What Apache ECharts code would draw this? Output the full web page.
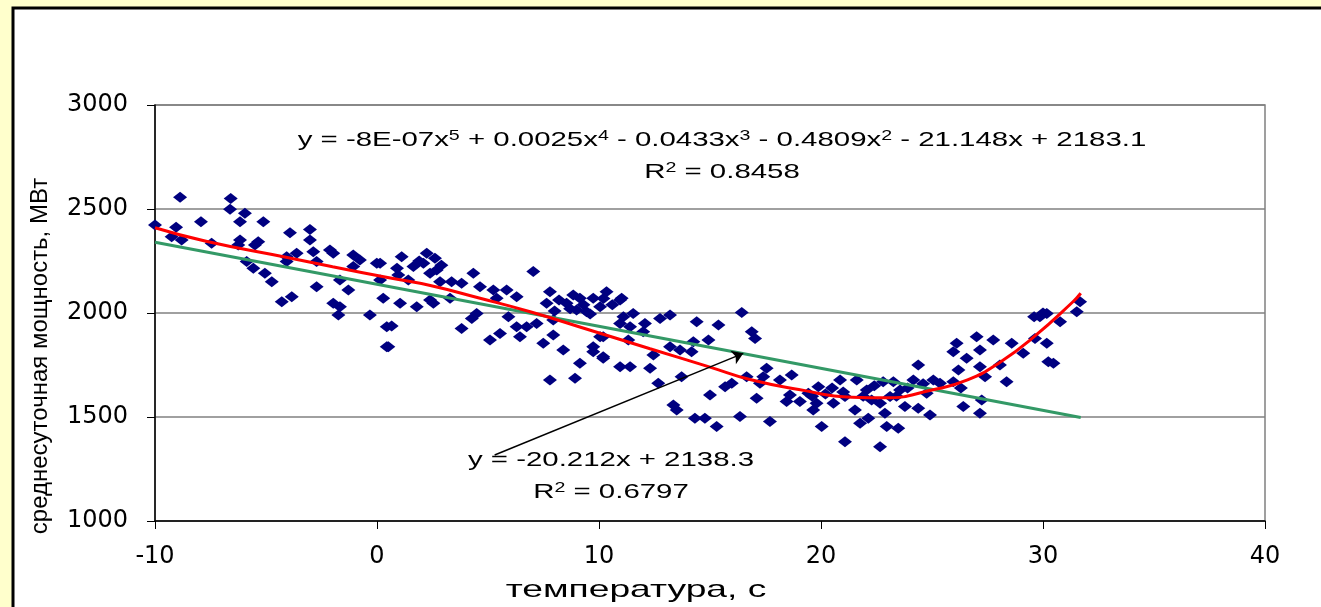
<!DOCTYPE html>
<html>
<head>
<meta charset="utf-8">
<title>температура / мощность</title>
<script src="https://cdn.jsdelivr.net/npm/echarts@6.0.0/dist/echarts.min.js"></script>
<style>
  html, body { margin: 0; padding: 0; background: #ffffcc; }
  #chart { width: 1321px; height: 607px; }
</style>
</head>
<body>
<div id="chart"></div>
<script>
var tempX = [
  -10, -8.87, -9.05, -9.25, -8.8, -7.93, -7.45, -6.59, -6.62, -5.95, -6.17, -5.12, -6.17, -6.25, -5.35, -5.5,
  -5.87, -5.57, -5.05, -4.74, -4.29, -3.84, -3.92, -4.07, -3.62, -4.07, -3.02, -3.02, -2.87, -2.72, -2.12, -1.97,
  -2.72, -1.67, -1.97, -1.67, -1.74, -1.29, -1.07, -0.77, -1.07, -0.01, -0.32, 0.28, 0.14, 0.44, 0.44,
  0.14, 0.66, 0.51, 1.11, 0.96, 1.04, 1.64, 1.79, 1.41, 2.24, 2.61, 2.09, 2.39, 2.69, 2.84, 2.39, 2.54,
  3.36, 3.81, 3.29, 4.34, 3.81, 4.64, 4.49, 4.27, 5.24, 5.84, 5.39, 5.09, 5.54, 5.92, 6.29, 6.29, 6.44,
  7.04, 6.74, 7.19, 7.49, 7.79, 7.64, 7.94, 7.94, 8.39, 7.79, 8.84, 8.54, 9.14, 8.99, 9.44, 9.74, 10.34,
  10.05, 9.14, 8.92, 9.74, 9.74, 10.19, 10.05, 10.95, 11.1, 10.95, 11.32,
  11.02, 11.54, 10.95, 11.4, 10.19, 10.19, 11.4, 12.07, 11.99, 12.75, 13.2, 12.45, 12.3, 12.67, 13.2,
  13.65, 13.72, 14.25, 14.4, 14.93, 15.38, 14.17, 13.35, 13.5, 14.32, 14.77, 15.3, 15.0, 15.68, 16.43,
  16.88, 17.03, 15.98, 16.65, 16.35, 17.25, 17.1, 17.55, 17.4, 17.7, 18.15, 18.68, 18.6, 19.05, 19.43,
  19.88, 19.8, 20.03, 20.86, 21.08, 21.08, 18.45,
  19.65, 20.56, 21.61, 21.53, 21.76, 22.06, 22.28, 22.13, 22.66, 22.66, 22.88, 22.8, 23.26, 22.96, 23.48,
  23.11, 23.56, 23.78, 24.16, 24.38, 24.38, 24.91, 25.06, 25.36, 24.76, 25.96, 26.11, 26.19, 26.41, 25.96,
  26.56, 27.01, 27.16, 27.16, 27.39, 27.24, 27.16, 27.76, 28.06, 28.36, 28.59, 29.11, 29.64, 29.86, 30.17,
  30.24, 30.47, 30.17, 30.77, 31.52, 31.67, 30.0, 29.6,
  8.2, 8.7, 9.3, 9.6, 10.6, 10.2, 8.0, 1.9, 2.9, 0.9,
  20.2, 20.5, 19.6, 21.0, 21.9, 22.4, 23.4, 23.9, 24.6, 26.3
];
var powerY = [
  2423, 2556, 2412, 2367, 2351, 2439, 2335, 2551, 2499, 2479, 2439, 2439, 2351, 2327, 2343, 2327,
  2247, 2215, 2191, 2150, 2054, 2078, 2386, 2271, 2287, 2247, 2402, 2351, 2295, 2126, 2303, 2287,
  2247, 2159, 2047, 2030, 1990, 2111, 2279, 2255, 2223, 2239, 1990, 2071, 2159, 1934, 1838,
  2239, 1937, 1838, 2271, 2183, 2047, 2223, 2030, 2159, 2287, 2263, 2239, 2191, 2207, 2150, 2062, 2047,
  2150, 2143, 2071, 2191, 1926, 2126, 1998, 1974, 2111, 2111, 2071, 1870, 1902, 1982, 2078, 1934, 1886,
  2199, 1934, 1950, 1854, 2102, 2047, 1966, 1894, 1822, 1678, 2087, 2047, 2071, 2014, 2006, 2071, 2102,
  2030, 1758, 1686, 1838, 1814, 1790, 1886, 2062, 1982, 1742, 1870,
  2071, 1998, 1950, 1934, 1886, 1782, 1742, 1950, 1910, 1974, 1990, 1798, 1734, 1662, 1838,
  1822, 1694, 1862, 1958, 1870, 1942, 1814, 1558, 1534, 1494, 1494, 1454, 1606, 1646, 2002,
  1910, 1878, 1662, 1694, 1502, 1662, 1590, 1734, 1694, 1478, 1678, 1702, 1606, 1574, 1614,
  1646, 1566, 1454, 1678, 1598, 1381, 1574,
  1534, 1566, 1678, 1534, 1470, 1630, 1582, 1494, 1357, 1566, 1518, 1670, 1670, 1454, 1446,
  1598, 1630, 1550, 1678, 1750, 1542, 1510, 1678, 1662, 1614, 1814, 1854, 1726, 1550, 1670,
  1782, 1886, 1822, 1742, 1694, 1582, 1518, 1870, 1750, 1670, 1854, 1806, 1878, 1982, 1854,
  1766, 1758, 1998, 1958, 2006, 2054, 2000, 1982,
  2062, 2020, 2040, 1995, 2040, 2070, 2010, 2250, 2230, 2215,
  1610, 1640, 1600, 1620, 1600, 1650, 1600, 1640, 1660, 1640
];

// полиномиальный тренд (точки по красной кривой с картинки)
var polyX = [-10, -7.7, -4.1, -2, 0.6, 2.4, 4.6, 6.9, 9.1, 12.3, 15.0, 16.8, 19.0, 21.4, 22.9, 25.0, 26.6, 28.1, 29.6, 31.35, 31.7];
var polyY = [2410, 2345, 2268, 2222, 2168, 2132, 2072, 2006, 1934, 1828, 1740, 1680, 1632, 1595, 1592, 1630, 1678, 1766, 1886, 2054, 2095];

// линейный тренд
var linX = [-10, 31.7];
var linY = [2340, 1498];

// стрелка-выноска
var arrowFrom = [5.3, 1317];
var arrowTo = [16.5, 1806];

var xTicks = [-10, 40, 10];
var yTicks = [1000, 3000, 500];

function pairs(xs, ys) {
  var out = [];
  for (var i = 0; i < xs.length; i++) out.push([xs[i], ys[i]]);
  return out;
}

var tickFont = 'DejaVu Sans';
var textFont = 'Liberation Sans';
var supStyle = { fontSize: 14, fontFamily: textFont, verticalAlign: 'top', lineHeight: 14 };

var chart = echarts.init(document.getElementById('chart'));

var option = {
  backgroundColor: '#ffffcc',
  animation: false,
  grid: {
    left: 155, right: 56, top: 105, bottom: 86,
    show: true, borderColor: '#808080', borderWidth: 1.5, backgroundColor: '#fff'
  },
  xAxis: {
    type: 'value', min: xTicks[0], max: xTicks[1], interval: xTicks[2],
    axisLine: { onZero: false, lineStyle: { color: '#000', width: 1.5 } },
    axisTick: { show: true, length: 8, lineStyle: { color: '#000' } },
    splitLine: { show: false },
    axisLabel: { color: '#000', fontSize: 24, fontFamily: tickFont, margin: 24 }
  },
  yAxis: {
    type: 'value', min: yTicks[0], max: yTicks[1], interval: yTicks[2],
    axisLine: { show: true, onZero: false, lineStyle: { color: '#000', width: 1.5 } },
    axisTick: { show: true, length: 8, lineStyle: { color: '#000' } },
    splitLine: { show: true, lineStyle: { color: '#808080', width: 1.5 } },
    axisLabel: {
      color: '#000', fontSize: 24, fontFamily: tickFont, margin: 27,
      formatter: function (v) { return String(v); }
    }
  },
  graphic: [
    {
      type: 'rect', z: -10, silent: true,
      shape: { x: 13, y: 8, width: 1400, height: 700 },
      style: { fill: '#fff', stroke: '#000', lineWidth: 3 }
    },
    {
      type: 'text', x: 40, y: 356, rotation: Math.PI / 2,
      style: { text: 'среднесуточная мощность, МВт', font: '24px ' + textFont, fill: '#000', align: 'center', verticalAlign: 'middle' }
    },
    {
      type: 'text', x: 636, y: 590, scaleX: 1.55,
      style: { text: 'температура, с', font: '24px ' + textFont, fill: '#000', align: 'center', verticalAlign: 'middle' }
    },
    {
      type: 'text', x: 722, y: 140, scaleX: 1.4,
      style: {
        text: 'y = -8E-07x{s|5} + 0.0025x{s|4} - 0.0433x{s|3} - 0.4809x{s|2} - 21.148x + 2183.1',
        font: '21px ' + textFont, fill: '#000', align: 'center', verticalAlign: 'middle',
        rich: { s: supStyle }
      }
    },
    {
      type: 'text', x: 722, y: 172, scaleX: 1.4,
      style: {
        text: 'R{s|2} = 0.8458', font: '21px ' + textFont, fill: '#000', align: 'center', verticalAlign: 'middle',
        rich: { s: supStyle }
      }
    },
    {
      type: 'text', x: 611, y: 460, scaleX: 1.4,
      style: { text: 'y = -20.212x + 2138.3', font: '21px ' + textFont, fill: '#000', align: 'center', verticalAlign: 'middle' }
    },
    {
      type: 'text', x: 611, y: 492, scaleX: 1.4,
      style: {
        text: 'R{s|2} = 0.6797', font: '21px ' + textFont, fill: '#000', align: 'center', verticalAlign: 'middle',
        rich: { s: supStyle }
      }
    }
  ],
  series: [
    {
      type: 'scatter', symbol: 'diamond', symbolSize: [14, 11],
      itemStyle: { color: '#000080', opacity: 1 },
      data: pairs(tempX, powerY), z: 2
    },
    {
      type: 'line', data: pairs(linX, linY), symbol: 'none', z: 3,
      lineStyle: { color: '#339966', width: 3 },
      markLine: {
        silent: true, symbol: ['none', 'arrow'], symbolSize: 11,
        label: { show: false },
        lineStyle: { color: '#000', width: 1.5, type: 'solid' },
        data: [[{ coord: arrowFrom }, { coord: arrowTo }]]
      }
    },
    {
      type: 'line', data: pairs(polyX, polyY), symbol: 'none', smooth: true, z: 4,
      lineStyle: { color: '#ff0000', width: 3 }
    }
  ]
};

chart.setOption(option);
</script>
</body>
</html>
